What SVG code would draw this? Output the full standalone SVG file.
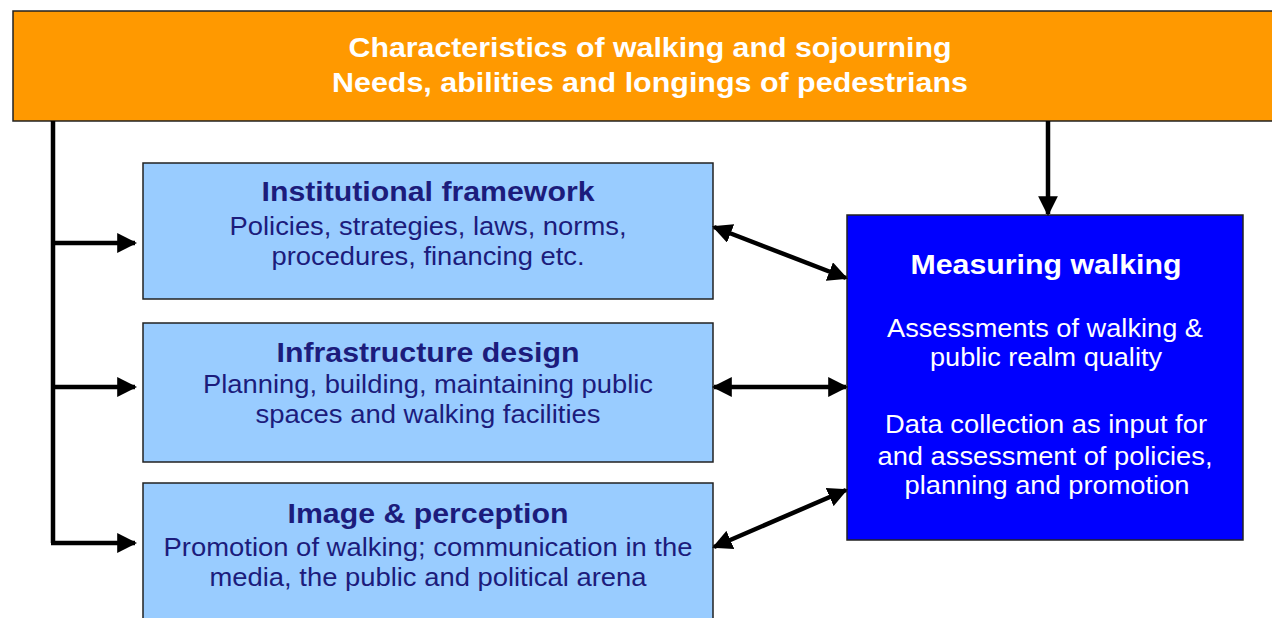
<svg xmlns="http://www.w3.org/2000/svg" width="1272" height="618" viewBox="0 0 1272 618">
<style>
.box{stroke:#222;stroke-width:1.5}
.t{font-family:"Liberation Sans",Arial,sans-serif;text-anchor:middle}
.h{font-weight:bold;font-size:27px}
.b{font-size:26px}
.w{fill:#fff}
.n{fill:#1c1c7c}
.c{stroke:#000;stroke-width:4.5;fill:none}
</style>
<defs>
<marker id="ah" viewBox="0 0 10 10" refX="9" refY="5" markerWidth="4.4" markerHeight="4.4" orient="auto-start-reverse" markerUnits="strokeWidth">
<path d="M0,0 L10,5 L0,10 z" fill="#000"/>
</marker>
</defs>
<rect width="1272" height="618" fill="#fff"/>
<g id="top">
<rect class="box" x="13" y="11" width="1270" height="110" fill="#ff9900"/>
<text class="t h w" x="650" y="57" textLength="603" lengthAdjust="spacingAndGlyphs">Characteristics of walking and sojourning</text>
<text class="t h w" x="650" y="92" textLength="636" lengthAdjust="spacingAndGlyphs">Needs, abilities and longings of pedestrians</text>
</g>
<g id="institutional">
<rect class="box" x="143" y="163" width="570" height="136" fill="#99ccff"/>
<text class="t h n" x="428" y="201" textLength="333" lengthAdjust="spacingAndGlyphs">Institutional framework</text>
<text class="t b n" x="428" y="235" textLength="397" lengthAdjust="spacingAndGlyphs">Policies, strategies, laws, norms,</text>
<text class="t b n" x="428" y="265" textLength="313" lengthAdjust="spacingAndGlyphs">procedures, financing etc.</text>
</g>
<g id="infrastructure">
<rect class="box" x="143" y="323" width="570" height="139" fill="#99ccff"/>
<text class="t h n" x="428" y="362" textLength="303" lengthAdjust="spacingAndGlyphs">Infrastructure design</text>
<text class="t b n" x="428" y="393" textLength="450" lengthAdjust="spacingAndGlyphs">Planning, building, maintaining public</text>
<text class="t b n" x="428" y="423" textLength="345" lengthAdjust="spacingAndGlyphs">spaces and walking facilities</text>
</g>
<g id="image">
<rect class="box" x="143" y="483" width="570" height="150" fill="#99ccff"/>
<text class="t h n" x="428" y="523" textLength="281" lengthAdjust="spacingAndGlyphs">Image &amp; perception</text>
<text class="t b n" x="428" y="556" textLength="529" lengthAdjust="spacingAndGlyphs">Promotion of walking; communication in the</text>
<text class="t b n" x="428" y="586" textLength="437" lengthAdjust="spacingAndGlyphs">media, the public and political arena</text>
</g>
<g id="measuring">
<rect class="box" x="847" y="215" width="396" height="325" fill="#0000ff"/>
<text class="t h w" x="1046" y="274" textLength="271" lengthAdjust="spacingAndGlyphs">Measuring walking</text>
<text class="t b w" x="1045" y="337" textLength="316" lengthAdjust="spacingAndGlyphs">Assessments of walking &amp;</text>
<text class="t b w" x="1046" y="366" textLength="232" lengthAdjust="spacingAndGlyphs">public realm quality</text>
<text class="t b w" x="1046" y="433" textLength="322" lengthAdjust="spacingAndGlyphs">Data collection as input for</text>
<text class="t b w" x="1045" y="465" textLength="335" lengthAdjust="spacingAndGlyphs">and assessment of policies,</text>
<text class="t b w" x="1047" y="494" textLength="285" lengthAdjust="spacingAndGlyphs">planning and promotion</text>
</g>
<g id="connectors">
<path class="c" d="M53,121 V543"/>
<path class="c" d="M51,243 H135" marker-end="url(#ah)"/>
<path class="c" d="M51,387 H135" marker-end="url(#ah)"/>
<path class="c" d="M51,543 H135" marker-end="url(#ah)"/>
<path class="c" d="M1048,121 V214" marker-end="url(#ah)"/>
<path class="c" d="M714,227 L846,278" marker-start="url(#ah)" marker-end="url(#ah)"/>
<path class="c" d="M714,387 H846" marker-start="url(#ah)" marker-end="url(#ah)"/>
<path class="c" d="M714,547 L846,490" marker-start="url(#ah)" marker-end="url(#ah)"/>
</g>
</svg>
